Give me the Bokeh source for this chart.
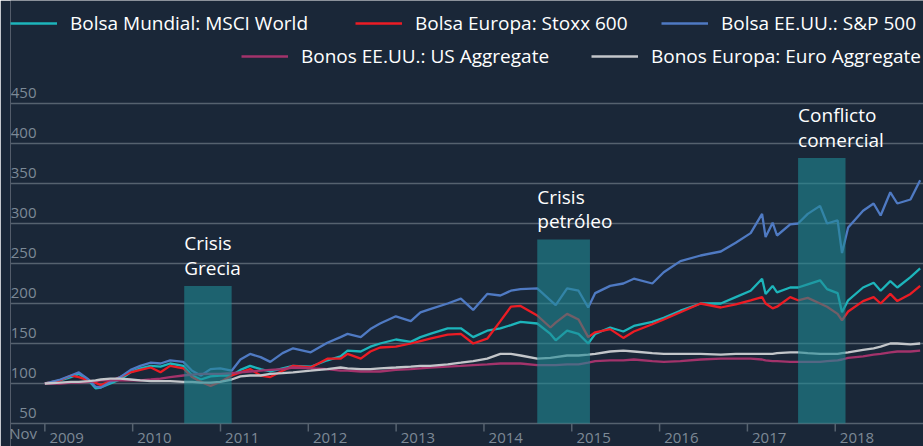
from bokeh.plotting import figure
from bokeh.models import Range1d, FixedTicker, Grid, Legend, LegendItem
from bokeh.core.properties import value
from bokeh.embed import file_html
from bokeh.resources import INLINE

# ---------------- data ----------------
dates = [2009.833, 2010.01, 2010.13, 2010.22, 2010.33, 2010.41, 2010.47, 2010.58, 2010.69, 2010.81,
         2010.92, 2011.04, 2011.15, 2011.26, 2011.41, 2011.51, 2011.61, 2011.72, 2011.83, 2011.96,
         2012.06, 2012.17, 2012.29, 2012.40, 2012.54, 2012.66, 2012.86, 2013.05, 2013.20, 2013.28,
         2013.43, 2013.54, 2013.65, 2013.83, 2014.00, 2014.11, 2014.22, 2014.42, 2014.57, 2014.71,
         2014.87, 2015.02, 2015.14, 2015.25, 2015.44, 2015.59, 2015.65, 2015.78, 2015.91, 2016.02,
         2016.10, 2016.27, 2016.42, 2016.54, 2016.75, 2016.88, 2017.07, 2017.30, 2017.53, 2017.70,
         2017.87, 2018.00, 2018.04, 2018.12, 2018.17, 2018.32, 2018.41, 2018.52, 2018.66, 2018.74,
         2018.86, 2018.91, 2018.98, 2019.15, 2019.27, 2019.35, 2019.46, 2019.54, 2019.69, 2019.80]

msci_world = [100, 104, 108, 112, 104, 94, 95, 100, 105, 114,
              119, 122, 121, 125, 122, 110, 105, 109, 110, 110,
              117, 122, 118, 115, 119, 122, 121, 129, 134, 141,
              140, 146, 150, 155, 152, 158, 162, 169, 169, 158,
              166, 169, 173, 177, 175, 162, 154, 166, 162, 150,
              162, 170, 165, 172, 177, 182, 191, 200, 200, 208,
              216, 231, 212, 222, 214, 220, 220, 224, 229, 218,
              213, 189, 204, 220, 226, 216, 228, 220, 233, 244]

stoxx_600 = [100, 104, 110, 108, 104, 101, 98, 103, 108, 114,
             117, 120, 114, 122, 119, 108, 102, 97, 102, 110,
             114, 118, 110, 108, 116, 122, 120, 131, 131, 137,
             131, 140, 145, 146, 150, 153, 156, 161, 162, 150,
             156, 178, 196, 197, 185, 170, 176, 187, 180, 158,
             164, 168, 157, 165, 174, 180, 189, 200, 195, 199,
             204, 208, 200, 194, 196, 208, 204, 207, 200, 196,
             187, 179, 190, 203, 208, 200, 212, 203, 212, 222]

sp_500 = [100, 105, 110, 114, 105, 96, 95, 102, 108, 117,
          122, 126, 125, 129, 127, 116, 110, 118, 119, 116,
          130, 137, 133, 127, 138, 144, 139, 151, 158, 162,
          158, 168, 175, 184, 178, 189, 193, 200, 206, 192,
          212, 210, 216, 218, 219, 204, 198, 219, 216, 195,
          213, 222, 225, 231, 225, 239, 253, 260, 265, 276,
          288, 312, 283, 301, 285, 299, 300, 312, 322, 300,
          304, 263, 295, 316, 325, 310, 339, 325, 330, 354]

us_aggregate = [100, 100, 101, 101, 102, 103, 104, 104, 104, 104,
                104, 105, 106, 108, 110, 111, 112, 112, 112, 113,
                114, 115, 116, 117, 118, 120, 119, 118, 116, 116,
                115, 115, 115, 117, 118, 119, 120, 121, 122, 123,
                124, 125, 125, 125, 123, 123, 123, 124, 124, 126,
                128, 129, 129, 130, 128, 127, 128, 130, 131, 131,
                131, 130, 129, 128, 128, 127, 127, 127, 127, 128,
                129, 130, 132, 134, 136, 137, 139, 140, 140, 141]

euro_aggregate = [100, 101, 102, 102, 103, 104, 105, 106, 106, 105,
                  104, 103, 103, 103, 102, 102, 101, 101, 102, 105,
                  109, 110, 110, 112, 113, 114, 116, 118, 120, 119,
                  118, 118, 119, 120, 121, 122, 122, 124, 126, 128,
                  131, 137, 137, 135, 131, 132, 133, 135, 135, 136,
                  137, 140, 141, 140, 138, 137, 137, 137, 136, 137,
                  137, 137, 137, 137, 138, 139, 139, 138, 137, 137,
                  137, 138, 139, 142, 144, 146, 150, 150, 149, 150]

series_names = ["Bolsa Mundial: MSCI World", "Bolsa Europa: Stoxx 600", "Bolsa EE.UU.: S&P 500",
                "Bonos EE.UU.: US Aggregate", "Bonos Europa: Euro Aggregate"]
series_values = [msci_world, stoxx_600, sp_500, us_aggregate, euro_aggregate]
series_colors = ["#1db5bb", "#ec1c24", "#4f7ac3", "#a3336b", "#c3c6ca"]

crisis_start = [2011.42, 2015.44, 2018.41]
crisis_end = [2011.96, 2016.04, 2018.95]
crisis_top = [222, 280, 382]
crisis_labels = ["Crisis\nGrecia", "Crisis\npetróleo", "Conflicto\ncomercial"]

y_ticks = [50, 100, 150, 200, 250, 300, 350, 400, 450]
y_tick_labels = ["50", "100", "150", "200", "250", "300", "350", "400", "450"]

year_ticks = [2009.833, 2010.833, 2011.833, 2012.833, 2013.833, 2014.833, 2015.833,
              2016.833, 2017.833, 2018.833]
x_label_pos = [2009.585, 2010.081, 2011.081, 2012.081, 2013.081, 2014.081, 2015.081,
               2016.081, 2017.081, 2018.081, 2019.081]
x_labels = ["Nov", "2009", "2010", "2011", "2012", "2013", "2014", "2015", "2016", "2017", "2018"]

# ---------------- layout ----------------
BG = "#1a2738"
GRID = "#56626f"
LABEL = "#7d8996"
FONT = "Open Sans"

W, H = 923, 446           # canvas; the frame fills it (left border 10px)
PX_PER_UNIT = 0.8         # vertical scale
Y_BASE = 50               # value of the axis line
Y_END = 450 + 103 / PX_PER_UNIT
Y_START = Y_BASE - 23 / PX_PER_UNIT
TICK_LEN = 8 / PX_PER_UNIT
X0, X1 = 2009.442, 2019.838

p = figure(width=W, height=H, output_backend="svg", toolbar_location=None,
           x_range=Range1d(X0, X1), y_range=Range1d(Y_START, Y_END),
           x_axis_location=None, y_axis_location=None,
           min_border_left=10, min_border_right=0, min_border_top=0, min_border_bottom=0,
           background_fill_color=BG, border_fill_color=BG, outline_line_color=None)

p.xgrid.visible = False
p.ygrid.visible = False
p.add_layout(Grid(dimension=1, ticker=FixedTicker(ticks=y_ticks),
                  grid_line_color=GRID, grid_line_width=1.5))

# x-axis ticks and labels, placed through the data scales
p.segment(x0=year_ticks, y0=[Y_BASE] * len(year_ticks), x1=year_ticks,
          y1=[Y_BASE - TICK_LEN] * len(year_ticks), line_color=GRID, line_width=1.5)
p.text(x=x_label_pos, y=[Y_START] * len(x_label_pos), text=x_labels, text_font=value(FONT),
       text_font_size="15px", text_color=LABEL, text_align="center",
       text_baseline="bottom", y_offset=-4)

renderers = []
for vals, col in zip(series_values, series_colors):
    renderers.append(p.line(dates, vals, line_color=col, line_width=2.3))

p.quad(left=crisis_start, right=crisis_end, bottom=[Y_BASE] * len(crisis_start), top=crisis_top,
       fill_color="#1f8a94", fill_alpha=0.6, line_color=None)

p.text(x=crisis_start, y=crisis_top, text=crisis_labels, text_font=value(FONT),
       text_font_size="19px", text_color="white", text_align="left",
       text_baseline="bottom", y_offset=-5, text_line_height=0.95)

p.text(x=[X0] * len(y_ticks), y=y_ticks, text=y_tick_labels, text_font=value(FONT),
       text_font_size="15px", text_color=LABEL, text_align="right",
       text_baseline="bottom", x_offset=26, y_offset=-6)

# legend: one entry per box, placed like the reference (sample start x, row centre y)
legend_x = [0, 345, 651, 231, 581]
legend_row_y = [23, 23, 23, 56, 56]
ITEM_H = 26
for name, r, lx, ly in zip(series_names, renderers, legend_x, legend_row_y):
    p.add_layout(Legend(items=[LegendItem(label=name, renderers=[r])],
                        location=(lx, H - ly - ITEM_H // 2),
                        label_text_font=FONT, label_text_font_size="19px",
                        label_text_color="white", glyph_width=47, glyph_height=20,
                        label_standoff=13, padding=0, margin=0,
                        background_fill_alpha=0, border_line_alpha=0))

open("out.html", "w").write(file_html(p, INLINE))
